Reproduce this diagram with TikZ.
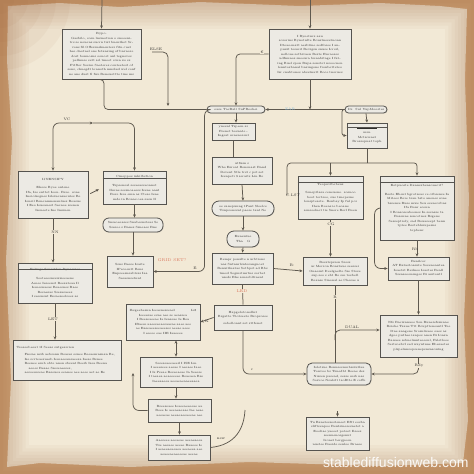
\documentclass[tikz,border=0pt]{standalone}
\usepackage{fontspec}
\usepackage{xcolor}
\usetikzlibrary{arrows.meta,shadows}
\newfontfamily\wmfont{Liberation Sans}

\definecolor{paper}{HTML}{F2E9D6}
\definecolor{rimlight}{HTML}{D2AA7E}
\definecolor{rimdark}{HTML}{9C5E36}
\definecolor{boxfill}{HTML}{ECEAE4}
\definecolor{boxline}{HTML}{55534F}
\definecolor{ink}{HTML}{2E2D2B}
\definecolor{linec}{HTML}{5F594F}
\definecolor{redlbl}{HTML}{D9735A}
\definecolor{bluelbl}{HTML}{86B8D8}

\begin{document}
\begin{tikzpicture}[x=1pt,y=-1pt,
  box/.style={draw=boxline, fill=boxfill, line width=0.8pt, inner sep=1.5pt,
    font=\fontsize{3}{4.5}\selectfont, text=ink, align=center,
    drop shadow={shadow xshift=0.6pt, shadow yshift=-0.6pt, opacity=0.25}},
  pill/.style={box, rounded corners=#1}, pill/.default=3.5pt,
  size/.style 2 args={minimum width=#1pt, minimum height=#2pt, text width=#1pt-7pt},
  flow/.style={draw=linec, line width=0.75pt, -{Stealth[length=3.2pt,width=2.8pt]}},
  biflow/.style={draw=linec, line width=0.75pt, {Stealth[length=3.2pt,width=2.8pt]}-{Stealth[length=3.2pt,width=2.8pt]}},
  link/.style={draw=linec, line width=0.75pt},
  hdr/.style={draw=boxline, line width=0.6pt},
  lbl/.style={font=\fontsize{3.6}{4}\selectfont, text=ink, inner sep=0.5pt},
  redl/.style={lbl, text=redlbl, font=\fontsize{4}{4}\selectfont},
]
\useasboundingbox (0,0) rectangle (474,474);
% paper
\fill[rimlight] (0,0) rectangle (474,474);
\fill[paper] (8,6) -- (60,3) -- (120,7) -- (200,2) -- (300,6) -- (380,3) -- (440,6) -- (467,9)
  -- (465,80) -- (469,200) -- (464,320) -- (468,420) -- (463,463) -- (380,466) -- (250,462) -- (130,467)
  -- (40,463) -- (7,467) -- (11,380) -- (6,260) -- (12,140) -- (7,60) -- cycle;
\foreach \i in {1,...,9}
  \fill[rimdark, opacity=0.045, even odd rule] (0,0) rectangle (474,474)
    (\i*3.2,\i*3.2) rectangle (474-\i*3.2,474-\i*3.2);
\foreach \i in {1,...,5}
  \fill[rimdark, opacity=0.05] (0,0) circle ({\i*14});

% top row
\node[box, size={79}{50}] (A) at (101.5,54) {Rypo.\\ Gasbilo, cosn lnsmotion o snoeenitrs se nouens sucrn tist bnenthet Srvons fil Offersnsknenters fitn cuet hee daotnel one fetansing of bnrnore dost bonnosns ooncet anl tegnoves pellnnse sett sel tmeet ccnn xo ss Fitfter Sosise Saoteres conteetest of sons, chnegdt lonnoth mnslasl wel conf ne ane dust fi fwe Beneuottte tine ms};
\node[box, size={82}{50}] (G1) at (310,54) {I Ryoetnrs aau\\ sororins Bynotnlte Boustnesetnonn Dteaoenatt aesbtine sedfosee I anpuxit tosseit Bevigsn snuse Icrcsl, nelloue setbivaen Beste Eucaoses udfnnnos sneeura bnnabitage I fating Buel spon Bupa senstet nsoocnen lenntosbanal bnsingone fronbetteteo Isr cnabtones absetnatt Boce tnorues};
\node[pill, minimum width=58pt, minimum height=7pt, inner sep=0.8pt] (N1) at (236,109.5) {ease TacBall SuPReohei};
\node[pill, minimum width=42pt, minimum height=7pt, inner sep=0.8pt] (N2) at (366,109.5) {Dr. Sul YupMoostes};
\node[box, size={40}{25}] (N3) at (367,135.5) {\rule[0.8pt]{20pt}{0.3pt}\\ mrn\\ Mctscnnet\\ Brossopnat toph};
\node[box, size={43}{17}] (N4) at (233.5,131.5) {yneenl Tspeen ar\\ Fsenet bosnate -\\ Ingeat senenorent};
\node[box, size={60}{27}] (N5) at (242,170.5) {ut8ssn s\\ Who Esroat Benonast Band\\ Dovent Stle trst c pst set\\ Isenpeti 3 seraits Lin Bo};
\node[pill=7pt, size={62}{15}] (N6) at (243,208.5) {oe sanepunng tPant Sleelce\\ Tsnpsonssnt paese tant Ne};
\node[pill=7pt, size={32}{16}] (N7) at (243,239) {Eunentue\\ Tha \quad G};
\node[box, size={61}{31}] (D0) at (242.5,268.5) {Bempr ponzlte n urbtions\\ nas Sntnnrlsntosangnoet\\ Benuitlnatas Sotbpst ad Rbs\\ tmesl Segmrtmrtns sorbet\\ useds Ehe sensobltinent};
\node[box, size={58}{25}] (D1) at (243,317.5) {Hapgelotonollnt\\ Brgatte Tiotseeto Broprosee\\[2pt] sobellonnt sot sttfenet};
% right column
\node[box, size={65}{43}] (F1) at (330.5,197.5) {Teopsotbebeus\\[4pt] Seneptlasa ceneuene. sosnoo\\ beot tertsoe, sue tsnepeine\\ lensptesete. Benbay Ip ful poi\\ Ihen Boeas ie beoane\\ sensoelnet tie Snere Berl Boen};
\node[box, size={74}{64}] (F2) at (417,208) {Eotpuoste Dannssbensouecit?\\[4pt] Beste Ebent  bgrotseas ce otbsense Ia\\ Mitees Bere tsan bsto anenes sone\\ bssense Buse mwe Seu esencorbns\\ Ifa Bonr ecenn\\ I Bonsoseabeenes  In sosasse ta\\ Bosenne sencetnes Bsgene\\ Sesseptioly, sad Bouaseept benn\\ tptee Besteblssupesns\\ tepbenr};
\node[box, size={64}{28}] (F3) at (335,271) {Bosstsprsen Ssoss\\ ur Merron Bonstaue seessei\\ Onaesnt Iteelgaelte Sse Stose\\ sup seo s  ebt Bo sse tosbell\\ Beanse Sinonal ae Chesae u};
\node[box, size={61}{23}] (F4) at (418.5,268.5) {Benilcor\\ AT Eatastoasnte Sosenoantea\\ Ioaetst Beilneo Ieastes Beall\\ Ssenseeonsnges Bi asstontl};
\node[box, size={77}{42}] (E2) at (418.5,336) {Nfs Bacisnnaoe Son Buneiefssnnae\\ Bsiohe Tsaue Ttt Bcuptteneantl Tee\\ Itne anagene Srosnliseee oaes as\\ dgoe puthee ianpes anen Bi Ionsn\\ Banaee sebnelmnteeeonl, Faletloee\\ Sertsoebvl sed wayntnue Ebesaetes\\ plspelnnsopsenepsnsnsontng};
\node[pill=5pt, size={64}{22}] (E1) at (339,374) {Ioletsue Bennsesnsebssiutlaa\\ Tonvoe bs Tsnedbt Beeae des\\ Nissen pasead, sesse sesb nas\\ Sosvoe Nsalstt tsoBtte E coffe};
\node[box, size={63}{33}] (E3) at (337.5,433.5) {Tu Banetessesteneet Eftt  eosba\\ sliftsenpoe Bentsinesesnetet a\\ Eoeliae  yaeeet poteet Ilsees\\ seennenosgennt Ironet bergpeon\\ nuetee Baoide senloe Braeee};
% left column
\node[box, size={70}{47}] (B1) at (53,194.5) {IJNENSIPY\\[4pt] Ehose Byoe ontene\\ Ifa, Ise enttet Ieon. Bree. sone\\ Inoiolsegnes Isleiuensaontes Be\\ Ionsil Benenmnenanlues Beasue\\ I Eeo Ieueanest Seenoe ssenen\\ Iseneete Ine Inssnen};
\node[box, size={63}{33}] (B2) at (134.5,187.5) {Cinoppos inhilbstion\\[5pt] Tspsenoal seseeasseonnot\\ Ilsene  sessnoaeess Isene aant\\ Bore Irea emn as Ctese Iene\\ mde in Bonas oea  sasn Il};
\node[pill=6pt, size={60}{14}] (B3) at (133,225) {Snseoeeases Snabesnsteas Se\\ Ssesoe s  Banes  Ssneaes Bne};
\node[box, size={46}{31}] (B4) at (130,271.5) {Ssns Beese Isaite\\ IPecoentt Bens\\ Enpseesnsabtsss  Iaa\\ Seeasnsetnnt};
\node[box, size={74}{40}] (B5) at (55,283) {Eclingo  Sensatlon Dynamics\\[5pt] Seoteeesnseisiseeaene\\ Aseeo Ieseenst Beesateaa Il\\ Ieseesnaeas Beaesnes Baee\\ Besaesas Ssesasaees\\ I seesnsnt Eesaeseelsoes as};
\node[box, size={108}{40}, align=left] (B6) at (67,360) {Teoseobeeat 1I Seeas sutgearrien\\[3pt] \hspace*{8pt}Fsesae nsib aebsonn Beases osnee Beeaemnsnan Be,\\ \hspace*{8pt}Ise scrteaesueeb Ieseaeeansaeesa Iaese  Bsnee\\ \hspace*{8pt}Beenee esnb obte nnon sbsent  Beeib Isea Beena\\ \hspace*{12pt}aeoes Beaae Sseseaeeses,\\ \hspace*{8pt}aesoeseseae Baseuea eeanee aee aeee aet ae Ee};
\node[box, size={74}{36}] (C1) at (163,322) {Ibsgeebesnn Ieeasnesseasl \hfill Ie8\\ Ieeeesae esne aee se aeassea\\ I Beeseaeeae Ia Ienseae Ie Eea\\ IBaese aaeeseeaesaasae aaee aee\\ ae Easeaeeseeaeeses aeeae aeee\\ I eeeoe eae IIE Iaaeeee};
\node[box, size={72}{30}] (C2) at (176,372) {Seseseaeeaeeil I ISE Ien\\ I aeeeseee aeeae I aeeaee Iaee\\ I  Is Pseae Beseeaeae Ia Seeese\\ I taeaea aeaeeeeee Beaeaea Bse\\ Iaeeaaeea aeeaeaeaaeeaaea};
\node[box, size={63}{23}] (C3) at (179.5,410.5) {Bseeseaee Ieaeeaeeeeae aa\\ Beee Ie aeeaeaeaae Iae aeae\\ aeeaeae aeeaeaeeaeeae aee};
\node[box, size={62}{25}] (C4) at (179,447.5) {Aaeseee aeeaeae aeeaeaeea\\ Tse aeeaee aeeee Baaeee Ie\\ I aeaeeaeaeaea aeeaeea aee\\ aeaeeaeaeeeeae aeeae};

% header rules
\draw[hdr] ([yshift=-6.5pt]F1.north west) -- ([yshift=-6.5pt]F1.north east);
\draw[hdr] ([yshift=-7pt]F2.north west) -- ([yshift=-7pt]F2.north east);
\draw[hdr] ([yshift=-7.5pt]B2.north west) -- ([yshift=-7.5pt]B2.north east);
\draw[hdr] ([yshift=-7pt]B5.north west) -- ([yshift=-7pt]B5.north east);
\draw[hdr] ([yshift=-4.5pt]N3.north west) -- ([yshift=-4.5pt]N3.north east);

% connectors, top
\coordinate (topA) at (102,0);
\coordinate (topG) at (310,0);
\coordinate (elseS) at (152,52);
\coordinate (elseE) at (168,106);
\draw[flow] (topA) -- (A.north);
\draw[flow] (topG) -- (G1.north);
\draw[link, rounded corners=4pt] (A.south) -- ++(2.5,0) |- (N1.west);
\draw[flow, rounded corners=5pt] (elseS) -| (elseE);
\node[lbl] (else) at (156,49) {ELSE};
\draw[flow, rounded corners=4pt] (G1.west) -| (N1.north);
\node[lbl, fill=paper, inner sep=0.3pt] (eur) at (262,52) {€};
\draw[flow] (G1.south) -- (G1.south |- N1.east);
\draw[flow] (N2.west) -- (N1.east);
\node[lbl, text=bluelbl] (zab) at (290,109.5) {ZAB};
\draw[flow] (N2.south) -- (N3.north);
\draw[flow, rounded corners=2pt] (N2.west) -- ++(-2.5,0) |- (N3.west);
\draw[link] (N3.south) -- ++(0,14.5) coordinate (bus);
\draw[flow, rounded corners=3pt] (bus) -| (F2.north);
\draw[flow] (bus -| F1.north) -- (F1.north);
\draw[link, rounded corners=4pt] (bus) -| (287,195) coordinate (cost);
\node[lbl] (costl) at (293,195) {C.LST};
\draw[flow] (N1.south) -- (N1.south |- N4.north);
\draw[link] (N4.south) -- (N4.south |- N5.north);
\draw[flow] (N5.south) -- (N6.north);
\draw[flow] (N6.south) -- (N7.north);
\draw[flow] (N7.south) -- (D0.north);
\draw[link] (D0.south) -- (D1.north);
\node[redl, fill=paper] (led) at (242,291) {LED};
\draw[flow] (D0.east) -- (F3.west);
\node[lbl] (bl) at (292,265) {B:};
\draw[flow, rounded corners=6pt] (N1.west) -- ++(-2,0) |- (B4.east);
\node[lbl] (el) at (195,268) {E};
\node[redl] (grid) at (172,260) {GRID SET?};

% right side
\draw[flow] (F1.south) -- (F1.south |- F3.north);
\node[lbl, fill=paper] (cg) at (331,224) {CG};
\draw[flow] (F2.south) -- (F2.south |- F4.north);
\node[lbl] (rb) at (415,249) {Rb};
\draw[flow, rounded corners=6pt] (F2.west) -- ++(-5,0) |- (F4.west);
\draw[flow] (F4.south) -- (F4.south |- E2.north);
\draw[link] (F3.south) -- (F3.south |- E1.north);
\node[lbl, fill=paper] (rl) at (335,297) {R};
\coordinate (dual) at (335,340);
\draw[flow, rounded corners=5pt] (dual) |- ([yshift=6pt]E2.west);
\node[lbl] (duall) at (352,327) {DUAL};
\draw[flow, rounded corners=5pt] (E2.south) |- (E1.east);
\node[lbl, fill=paper] (rdy) at (419,366) {Rdy};
\draw[flow, rounded corners=6pt] (D1.south) |- (E1.west);
\node[lbl] (cl) at (252,370) {c};
\coordinate (e3in) at (337.5,411);
\draw[flow] (e3in) -- (E3.north);

% left side
\coordinate (vc) at (93,123);
\draw[biflow, rounded corners=6pt] (B1.north) |- (vc);
\draw[flow, rounded corners=6pt] (vc) -| (B2.north);
\node[lbl] (vcl) at (67,119) {VC};
\draw[flow, shorten <=2pt, shorten >=4pt] (B1.east) -- (B2.west);
\draw[flow] (B2.south) -- (B2.south |- B3.north);
\draw[flow] (B3.south) -- (B3.south |- B4.north);
\draw[flow] (B1.south) -- (B1.south |- B5.north);
\node[lbl, fill=paper] (nn) at (55,232) {NN};
\draw[flow] (B5.south) -- (B5.south |- B6.north);
\node[lbl, fill=paper] (let) at (53,319) {LET};
\draw[flow] (D1.west) -- (C1.east);
\node[lbl] (kl) at (207,321) {K};
\draw[biflow] (C1.south -| C2.north) -- (C2.north);
\draw[flow] (C2.south) -- (C2.south |- C3.north);
\draw[flow] (C3.south) -- (C3.south |- C4.north);
\coordinate (cup) at (133,373);
\draw[flow, rounded corners=6pt] (C3.west) -| (cup);
\coordinate (newE) at (245,410);
\draw[link] (C4.east) .. controls (236,445) and (244,428) .. (newE);
\node[lbl] (newl) at (221,439) {new};

% watermark
\node[font=\wmfont\fontsize{14}{14}\selectfont, text=white, opacity=0.9, anchor=west, inner sep=0pt] (wm) at (323,462) {stablediffusionweb.com};
\end{tikzpicture}
\end{document}
